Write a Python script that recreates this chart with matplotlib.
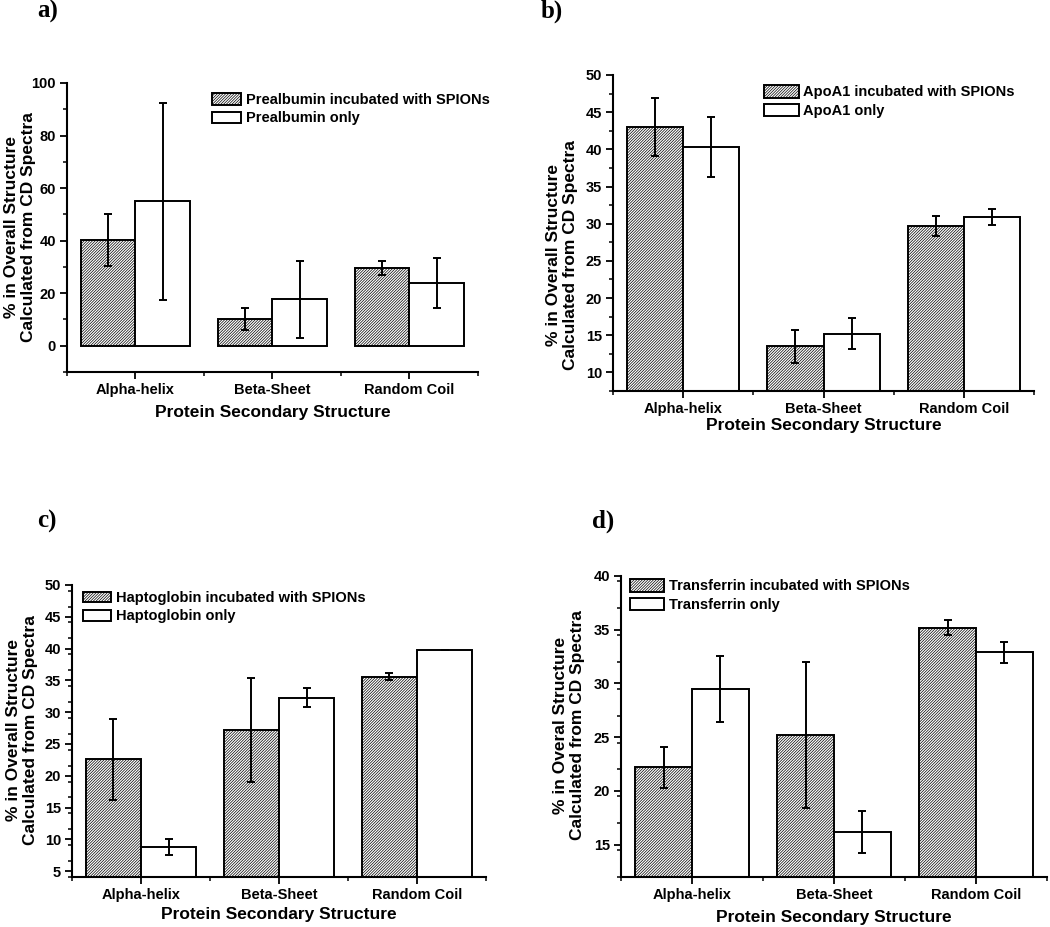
import numpy as np
import matplotlib
matplotlib.use('Agg')
from matplotlib import pyplot as plt

plt.rcParams['font.family'] = ['Liberation Sans', 'DejaVu Sans']
plt.rcParams['font.weight'] = 'bold'
plt.rcParams['hatch.linewidth'] = 0.5

categories = ['Alpha-helix', 'Beta-Sheet', 'Random Coil']

# a) prealbumin
pre_spion = [40.2, 10.2, 29.6]
pre_spion_err = [10.0, 4.2, 2.6]
pre_only = [54.9, 17.7, 23.9]
pre_only_err = [37.6, 14.7, 9.6]

# b) apoA1
apo_spion = [43.0, 13.5, 29.7]
apo_spion_err = [3.9, 2.25, 1.3]
apo_only = [40.3, 15.2, 30.9]
apo_only_err = [4.0, 2.1, 1.05]

# c) haptoglobin
hap_spion = [22.6, 27.2, 35.6]
hap_spion_err = [6.35, 8.15, 0.6]
hap_only = [8.8, 32.3, 39.8]
hap_only_err = [1.3, 1.45, 0.05]

# d) transferrin
tf_spion = [22.2, 25.2, 35.2]
tf_spion_err = [1.9, 6.8, 0.7]
tf_only = [29.5, 16.2, 32.9]
tf_only_err = [3.05, 1.95, 1.0]

panels = [
    dict(letter='a)', rect=[0.0638, 0.5987, 0.3914, 0.3118], ylim=(-10, 100), major=20, minor=10,
         spion=pre_spion, spion_err=pre_spion_err, only=pre_only, only_err=pre_only_err,
         names=['Prealbumin incubated with SPIONs', 'Prealbumin only'],
         ylabel='% in Overall Structure\nCalculated from CD Spectra',
         ylab_xy=(-0.114, 0.50), xlab_y=-0.114, leg=(212, 93), hl=2.0, hh=0.8,
         letter_xy=(37, 0)),
    dict(letter='b)', rect=[0.5838, 0.5782, 0.4010, 0.3409], ylim=(7.5, 50), major=5, minor=2.5,
         spion=apo_spion, spion_err=apo_spion_err, only=apo_only, only_err=apo_only_err,
         names=['ApoA1 incubated with SPIONs', 'ApoA1 only'],
         ylabel='% in Overall Structure\nCalculated from CD Spectra',
         ylab_xy=(-0.121, 0.43), xlab_y=-0.085, leg=(764, 85), hl=2.4, hh=0.95,
         letter_xy=(541, 0)),
    dict(letter='c)', rect=[0.0686, 0.0540, 0.3943, 0.3150], ylim=(4.1, 50), major=5, minor=2.5,
         spion=hap_spion, spion_err=hap_spion_err, only=hap_only, only_err=hap_only_err,
         names=['Haptoglobin incubated with SPIONs', 'Haptoglobin only'],
         ylabel='% in Overall Structure\nCalculated from CD Spectra',
         ylab_xy=(-0.121, 0.503), xlab_y=-0.103, leg=(83, 591), hl=1.95, hh=0.75,
         letter_xy=(37, 510)),
    dict(letter='d)', rect=[0.5914, 0.0540, 0.4057, 0.3247], ylim=(12.0, 40), major=5, minor=2.5,
         spion=tf_spion, spion_err=tf_spion_err, only=tf_only, only_err=tf_only_err,
         names=['Transferrin incubated with SPIONs', 'Transferrin only'],
         ylabel='% in Overal Structure\nCalculated from CD Spectra',
         ylab_xy=(-0.122, 0.505), xlab_y=-0.11, leg=(630, 579), hl=2.35, hh=0.95,
         letter_xy=(592, 510)),
]

W, H = 1050, 927
fig = plt.figure(figsize=(W / 100, H / 100), dpi=100)

x = np.arange(1, len(categories) + 1)
bw = 0.4
err_kw = dict(fmt='none', ecolor='black', elinewidth=1.4, capsize=2.6, capthick=1.4)

for p in panels:
    ax = fig.add_axes(p['rect'])
    b1 = ax.bar(x - bw / 2, p['spion'], bw, color='white', edgecolor='black',
                linewidth=1.4, hatch='////////////', label=p['names'][0])
    b2 = ax.bar(x + bw / 2, p['only'], bw, color='white', edgecolor='black',
                linewidth=1.4, label=p['names'][1])
    ax.errorbar(x - bw / 2, p['spion'], yerr=p['spion_err'], **err_kw)
    ax.errorbar(x + bw / 2, p['only'], yerr=p['only_err'], **err_kw)

    ax.set_xlim(0.5, 3.5)
    ax.set_ylim(*p['ylim'])
    lo = np.ceil(p['ylim'][0] / p['major']) * p['major']
    ax.set_yticks(np.arange(lo, p['ylim'][1] + 0.01, p['major']))
    ax.set_yticks(np.arange(p['ylim'][0], p['ylim'][1] + 0.01, p['minor']), minor=True)
    ax.set_xticks(x)
    ax.set_xticklabels(categories)
    ax.set_xticks([0.5, 1.5, 2.5, 3.5], minor=True)

    for s in ['top', 'right']:
        ax.spines[s].set_visible(False)
    for s in ['left', 'bottom']:
        ax.spines[s].set_linewidth(1.5)
    ax.tick_params(which='major', direction='out', length=5, width=1.3, labelsize=10.5, pad=3)
    ax.tick_params(which='minor', direction='out', length=3, width=1.1)
    for lab in ax.get_xticklabels() + ax.get_yticklabels():
        lab.set_fontweight('bold')

    ax.set_ylabel(p['ylabel'], fontsize=12.5, fontweight='bold', linespacing=1.15)
    ax.yaxis.set_label_coords(*p['ylab_xy'])
    ax.yaxis.label.set_va('center')
    ax.set_xlabel('Protein Secondary Structure', fontsize=12.5, fontweight='bold')
    ax.xaxis.set_label_coords(0.5, p['xlab_y'])

    lx, ly = p['leg']
    ax.legend(handles=[b1, b2], loc='upper left', bbox_to_anchor=(lx / W, 1 - ly / H),
              bbox_transform=fig.transFigure, frameon=False, borderpad=0, borderaxespad=0,
              handlelength=p['hl'], handleheight=p['hh'], handletextpad=0.3,
              labelspacing=0.3, prop=dict(size=10.5, weight='bold'))

    fx, fy = p['letter_xy']
    fig.text(fx / W, 1 - fy / H, p['letter'], ha='left', va='top', fontsize=18,
             fontweight='bold', family=['Liberation Serif', 'DejaVu Serif'])

fig.savefig('out.png', dpi=100)
